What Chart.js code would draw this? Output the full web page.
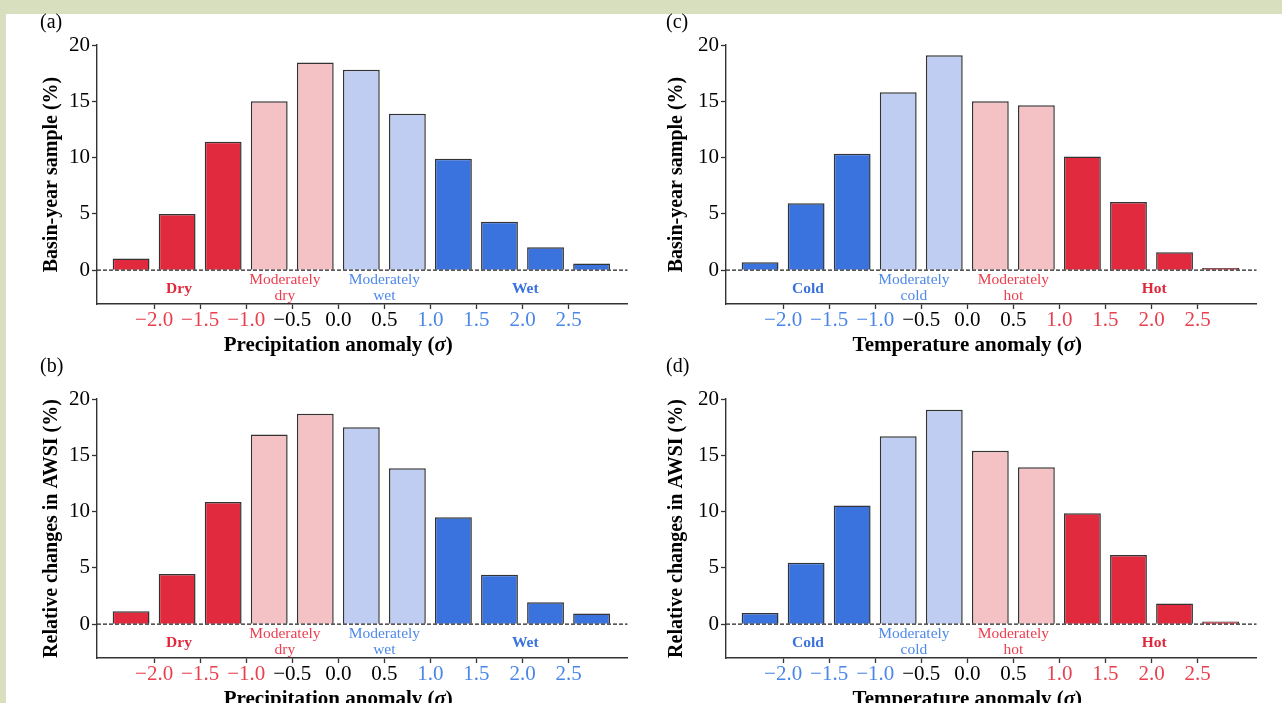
<!DOCTYPE html>
<html lang="en">
<head>
<meta charset="UTF-8">
<title>Basin-year sample and AWSI changes by anomaly class</title>
<script src="https://cdn.jsdelivr.net/npm/chart.js"></script>
<style>
  body { margin: 0; width: 1282px; height: 703px; overflow: hidden; background: #d8dfbf; position: relative; font-family: "Liberation Serif", serif; }
  #paper { position: absolute; left: 6px; top: 14px; right: 0; bottom: 0; background: #fff; }
  canvas { position: absolute; }
</style>
</head>
<body>
<div id="paper"></div>
<canvas id="chartA" width="640" height="360" style="left:0;top:0"></canvas>
<canvas id="chartB" width="640" height="360" style="left:0;top:354px"></canvas>
<canvas id="chartC" width="640" height="360" style="left:629px;top:0"></canvas>
<canvas id="chartD" width="640" height="360" style="left:629px;top:354px"></canvas>
<script>
// bin centres (sigma) and tick labels
const binCenters = [-2.25, -1.75, -1.25, -0.75, -0.25, 0.25, 0.75, 1.25, 1.75, 2.25, 2.75];
const xTicks = [-2.0, -1.5, -1.0, -0.5, 0.0, 0.5, 1.0, 1.5, 2.0, 2.5];
const yTicks = [0, 5, 10, 15, 20];

// values (%)
const precipSample = [1.05, 5.0, 11.4, 15.0, 18.45, 17.8, 13.9, 9.9, 4.3, 2.05, 0.6];
const precipAWSI   = [1.15, 4.45, 10.85, 16.85, 18.7, 17.5, 13.85, 9.5, 4.4, 1.95, 0.95];
const tempSample   = [0.7, 5.95, 10.35, 15.8, 19.1, 15.0, 14.65, 10.1, 6.05, 1.6, 0.2];
const tempAWSI     = [1.0, 5.45, 10.55, 16.7, 19.05, 15.4, 13.95, 9.85, 6.15, 1.85, 0.25];

// class of each bin
const precipClass = ['dry', 'dry', 'dry', 'mdry', 'mdry', 'mwet', 'mwet', 'wet', 'wet', 'wet', 'wet'];
const tempClass   = ['cold', 'cold', 'cold', 'mcold', 'mcold', 'mhot', 'mhot', 'hot', 'hot', 'hot', 'hot'];

const RED = '#e12a3e', PINK = '#f4c1c4', LBLUE = '#c0cdf3', BLUE = '#3a73de';
const fillOf = { dry: RED, mdry: PINK, mwet: LBLUE, wet: BLUE, cold: BLUE, mcold: LBLUE, mhot: PINK, hot: RED };
const TICK_RED = '#e8404e', TICK_BLUE = '#4a86e8';

const precipGroups = [
  { lines: ['Dry'], x: -1.73, bold: true, color: '#e0283c' },
  { lines: ['Moderately', 'dry'], x: -0.58, bold: false, color: '#ec3e4e' },
  { lines: ['Moderately', 'wet'], x: 0.5, bold: false, color: '#4f89ea' },
  { lines: ['Wet'], x: 2.03, bold: true, color: '#3a73de' }
];
const tempGroups = [
  { lines: ['Cold'], x: -1.73, bold: true, color: '#3a73de' },
  { lines: ['Moderately', 'cold'], x: -0.58, bold: false, color: '#4f89ea' },
  { lines: ['Moderately', 'hot'], x: 0.5, bold: false, color: '#ec3e4e' },
  { lines: ['Hot'], x: 2.03, bold: true, color: '#e0283c' }
];

function fmtTick(v) {
  return (v < 0 ? '\u2212' : '') + Math.abs(v).toFixed(1);
}

// dashed zero line, class names, axis titles, panel letter
const decor = {
  id: 'decor',
  afterDraw(chart, args, o) {
    const { ctx, chartArea, scales: { x, y } } = chart;
    const y0 = y.getPixelForValue(0);
    ctx.save();
    ctx.strokeStyle = '#222';
    ctx.lineWidth = 1.3;
    ctx.setLineDash([4, 2]);
    ctx.beginPath();
    ctx.moveTo(chartArea.left, y0);
    ctx.lineTo(chartArea.right, y0);
    ctx.stroke();
    ctx.setLineDash([]);

    ctx.textAlign = 'center';
    ctx.textBaseline = 'middle';
    o.groups.forEach(g => {
      ctx.font = (g.bold ? 'bold ' : '') + '15.5px "Liberation Serif"';
      ctx.fillStyle = g.color;
      const px = x.getPixelForValue(g.x);
      if (g.lines.length === 1) {
        ctx.fillText(g.lines[0], px, y.getPixelForValue(-1.69));
      } else {
        ctx.fillText(g.lines[0], px, y.getPixelForValue(-0.83));
        ctx.fillText(g.lines[1], px, y.getPixelForValue(-2.25));
      }
    });

    // x title: "... anomaly (σ)" with italic sigma, centred on x = 0
    ctx.fillStyle = '#000';
    const bold = 'bold 21px "Liberation Serif"';
    const ital = 'bold italic 21px "Liberation Serif"';
    const parts = [[o.xTitle + ' (', bold], ['\u03c3', ital], [')', bold]];
    let total = 0;
    parts.forEach(p => { ctx.font = p[1]; p.push(ctx.measureText(p[0]).width); total += p[2]; });
    let cx = x.getPixelForValue(0) - total / 2;
    const ty = chartArea.bottom + 42;
    ctx.textAlign = 'left';
    parts.forEach(p => { ctx.font = p[1]; ctx.fillText(p[0], cx, ty); cx += p[2]; });

    // y title
    ctx.save();
    ctx.translate(o.yTitleX, (chartArea.top + chartArea.bottom) / 2);
    ctx.rotate(-Math.PI / 2);
    ctx.textAlign = 'center';
    ctx.font = 'bold 20px "Liberation Serif"';
    ctx.fillText(o.yTitle, 0, 0);
    ctx.restore();

    // panel letter
    ctx.font = '20px "Liberation Serif"';
    ctx.textAlign = 'left';
    ctx.fillText(o.letter, o.letterX, o.letterY);
    ctx.restore();
  }
};

function makePanel(id, values, classes, warmLow, groups, xTitle, yTitle, letter, yTitleX, letterX, letterY) {
  const tickColor = v => {
    if (v <= -1) return warmLow ? TICK_RED : TICK_BLUE;
    if (v >= 1) return warmLow ? TICK_BLUE : TICK_RED;
    return '#000';
  };
  new Chart(document.getElementById(id), {
    type: 'bar',
    data: {
      datasets: [{
        data: binCenters.map((c, i) => ({ x: c, y: values[i] })),
        backgroundColor: classes.map(k => fillOf[k]),
        borderColor: '#333',
        borderWidth: 1.5,
        barPercentage: 0.8,
        categoryPercentage: 1.0
      }]
    },
    options: {
      responsive: false,
      animation: false,
      devicePixelRatio: 1,
      layout: { padding: { left: 0, top: 45, right: 12.5, bottom: 0 } },
      plugins: {
        legend: { display: false },
        tooltip: { enabled: false },
        decor: { groups, xTitle, yTitle, letter, yTitleX, letterX, letterY }
      },
      scales: {
        x: {
          type: 'linear',
          min: -2.62, max: 3.14,
          offset: false,
          afterBuildTicks: s => { s.ticks = xTicks.map(v => ({ value: v })); },
          afterFit: s => { s.height = 56; },
          grid: { drawOnChartArea: false, drawTicks: true, tickLength: 5, color: '#333', tickWidth: 1.3, offset: false },
          border: { display: true, color: '#333', width: 1.4 },
          ticks: {
            autoSkip: false, maxRotation: 0, padding: 0,
            font: { family: 'Liberation Serif', size: 21, lineHeight: 1.1 },
            color: ctx => tickColor(ctx.tick.value),
            callback: v => fmtTick(v)
          }
        },
        y: {
          min: -3, max: 20,
          afterBuildTicks: s => { s.ticks = yTicks.map(v => ({ value: v })); },
          afterFit: s => { s.width = 97; },
          grid: { drawOnChartArea: false, drawTicks: true, tickLength: 5, color: '#333', tickWidth: 1.3 },
          border: { display: true, color: '#333', width: 1.4 },
          ticks: {
            padding: 2,
            font: { family: 'Liberation Serif', size: 21 },
            color: '#000',
            callback: v => String(v)
          }
        }
      }
    },
    plugins: [decor]
  });
}

makePanel('chartA', precipSample, precipClass, true, precipGroups, 'Precipitation anomaly', 'Basin-year sample (%)', '(a)', 52, 40, 23);
makePanel('chartB', precipAWSI, precipClass, true, precipGroups, 'Precipitation anomaly', 'Relative changes in AWSI (%)', '(b)', 52, 40, 13);
makePanel('chartC', tempSample, tempClass, false, tempGroups, 'Temperature anomaly', 'Basin-year sample (%)', '(c)', 48, 37, 23);
makePanel('chartD', tempAWSI, tempClass, false, tempGroups, 'Temperature anomaly', 'Relative changes in AWSI (%)', '(d)', 48, 37, 13);
</script>
</body>
</html>
